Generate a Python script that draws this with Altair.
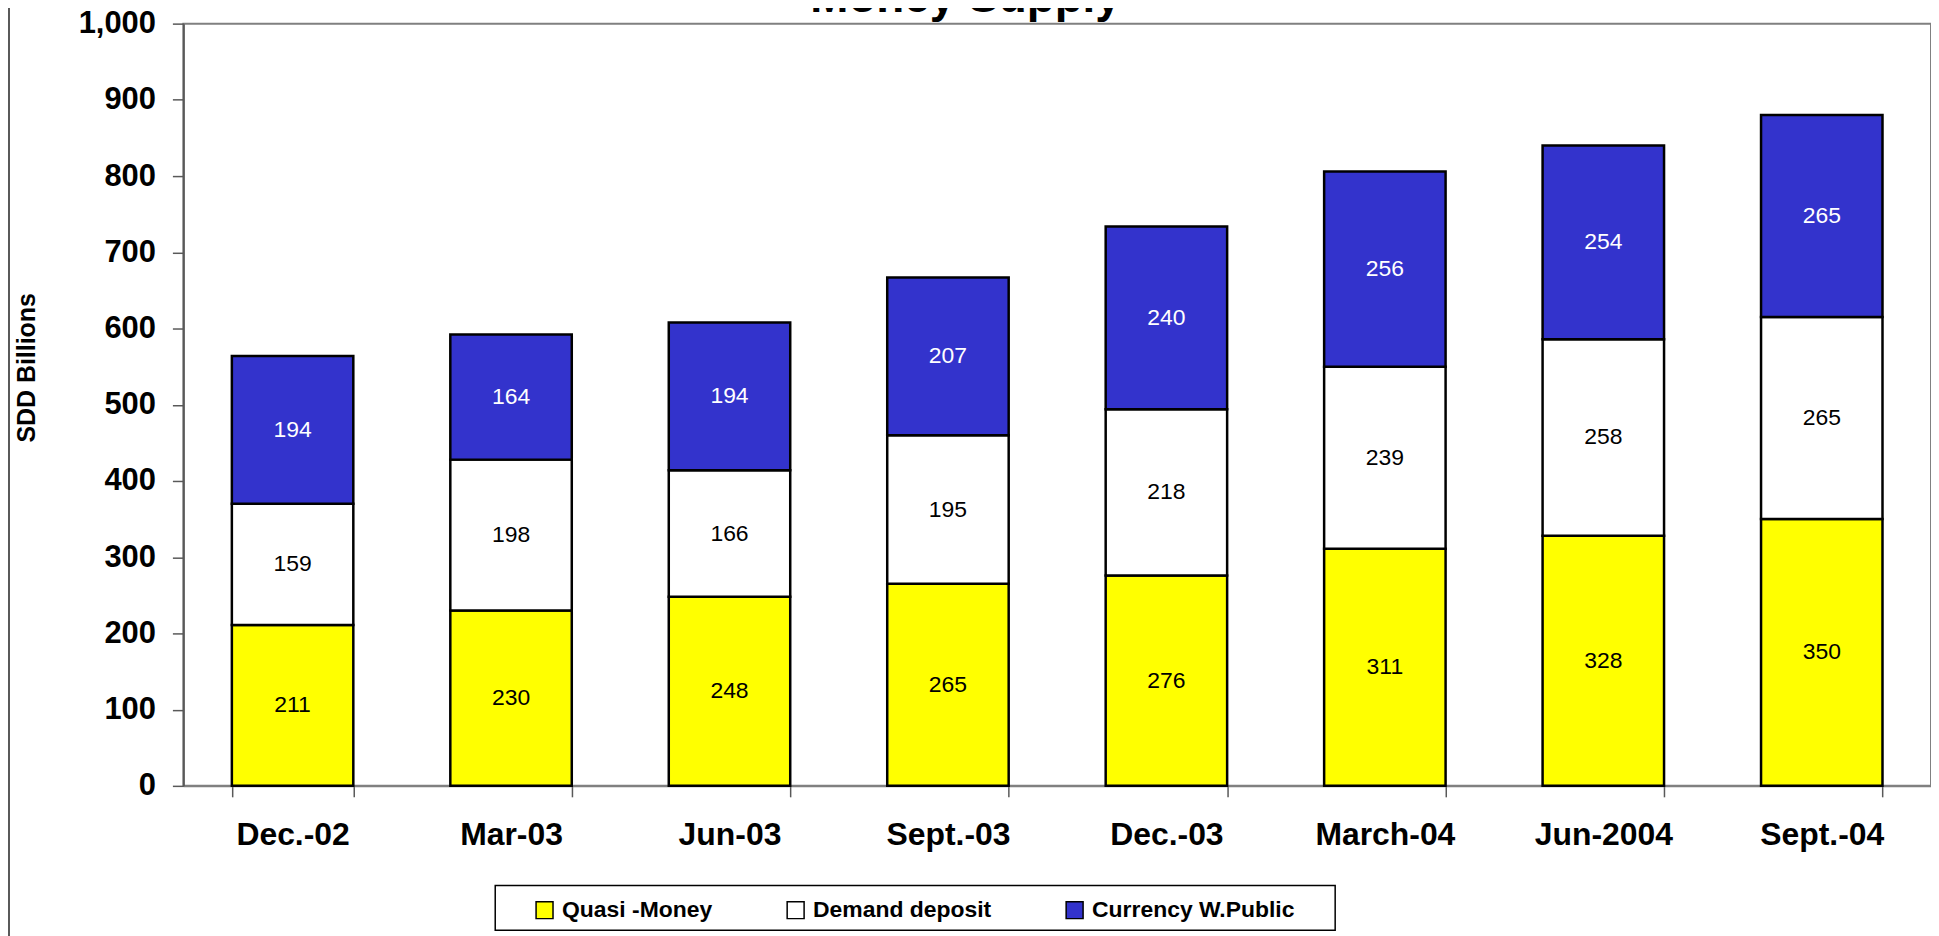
import altair as alt
import pandas as pd

periods = ["Dec.-02", "Mar-03", "Jun-03", "Sept.-03", "Dec.-03", "March-04", "Jun-2004", "Sept.-04"]
quasi_money = [211, 230, 248, 265, 276, 311, 328, 350]
demand_deposit = [159, 198, 166, 195, 218, 239, 258, 265]
currency_public = [194, 164, 194, 207, 240, 256, 254, 265]
series_names = ["Quasi -Money", "Demand deposit", "Currency W.Public"]
series_colors = ["#FFFF00", "#FFFFFF", "#3333CC"]
y_ticks = [0, 100, 200, 300, 400, 500, 600, 700, 800, 900, 1000]
chart_title = "Money Supply"

FONT = "Liberation Sans"

rows = []
for i, p in enumerate(periods):
    for k, vals in enumerate([quasi_money, demand_deposit, currency_public]):
        rows.append({"period": p, "series": series_names[k], "value": vals[i], "order": k})
df = pd.DataFrame(rows)

base = alt.Chart(df)

x_scale = alt.Scale(paddingInner=0.444, paddingOuter=0.222)
x_axis = alt.Axis(
    title=None, labelAngle=0, labelFont=FONT, labelFontSize=32, labelFontWeight="bold",
    labelColor="black", labelPadding=23, tickSize=11, tickBand="extent",
    tickColor="#595959", tickWidth=1.5, domainColor="#808080", domainWidth=2,
)
y_scale = alt.Scale(domain=[0, 1000], nice=False)
y_axis = alt.Axis(
    title="SDD Billions", values=y_ticks, format=",d", grid=False,
    labelFont=FONT, labelFontSize=31, labelFontWeight="bold", labelColor="black",
    labelPadding=17, tickSize=11, tickColor="#595959", tickWidth=1.5,
    domainColor="#595959", domainWidth=2,
    titleFont=FONT, titleFontSize=25, titleFontWeight="bold", titleColor="black",
    titleX=-157, titleY=345, titleAngle=270, titleAlign="center", titleBaseline="middle",
)

bars = base.mark_bar(stroke="black", strokeWidth=2.5).encode(
    x=alt.X("period:N", sort=periods, scale=x_scale, axis=x_axis),
    y=alt.Y("value:Q", stack="zero", scale=y_scale, axis=y_axis),
    color=alt.Color(
        "series:N", sort=series_names,
        scale=alt.Scale(domain=series_names, range=series_colors),
        legend=alt.Legend(
            title=None, orient="none", legendX=340, legendY=867, direction="horizontal",
            columns=3, symbolType="square", symbolSize=289, symbolStrokeColor="black",
            symbolStrokeWidth=1.5, symbolOpacity=1, labelFont=FONT, labelFontSize=23,
            labelFontWeight="bold", labelColor="black", labelOffset=6, columnPadding=72,
            padding=11, labelLimit=600,
        ),
    ),
    order=alt.Order("order:Q", sort="ascending"),
)

labels = base.transform_stack(
    stack="value", groupby=["period"], sort=[alt.SortField("order", "ascending")], as_=["v0", "v1"]
).transform_calculate(
    mid="(datum.v0 + datum.v1) / 2"
).mark_text(font=FONT, fontSize=23, baseline="middle", align="center").encode(
    x=alt.X("period:N", sort=periods, scale=x_scale, axis=x_axis),
    y=alt.Y("mid:Q", scale=y_scale, axis=y_axis),
    text=alt.Text("value:Q"),
    color=alt.condition(alt.datum.series == "Currency W.Public", alt.value("white"), alt.value("black")),
)

frame_df = pd.DataFrame({"k": [0]})
legend_box = alt.Chart(frame_df).mark_rect(fill="white", stroke="black", strokeWidth=1.5).encode(
    x=alt.value(313), x2=alt.value(1156), y=alt.value(865), y2=alt.value(910)
)
left_border = alt.Chart(frame_df).mark_rule(color="#595959", strokeWidth=2).encode(
    x=alt.value(-175), y=alt.value(-30), y2=alt.value(930)
)
title_df = pd.DataFrame({"t": [chart_title]})
title_mark = alt.Chart(title_df).mark_text(
    font=FONT, fontSize=46, fontWeight="bold", color="black", align="center", baseline="alphabetic"
).encode(text="t:N", x=alt.value(785), y=alt.value(-12))

chart = alt.layer(bars, labels, legend_box, left_border, title_mark).properties(
    width=1754,
    height=765,
    autosize=alt.AutoSizeParams(type="none"),
    padding={"left": 176, "top": 14, "right": 0, "bottom": 149},
).configure_view(stroke="#808080", strokeWidth=2)

chart.save("out.html", embed_options={"renderer": "svg", "actions": False})
